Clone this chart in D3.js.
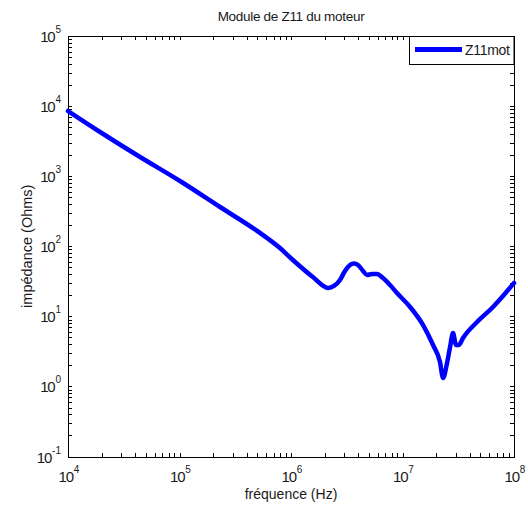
<!DOCTYPE html>
<html>
<head>
<meta charset="utf-8">
<script src="https://cdn.jsdelivr.net/npm/d3@7"></script>
<style>
  html, body { margin: 0; padding: 0; background: #fff; }
  svg { display: block; font-family: "Liberation Sans", Arial, Helvetica, sans-serif; }
  .axis path, .axis line { stroke: #000; stroke-width: 1; shape-rendering: crispEdges; }
</style>
</head>
<body>
<svg id="chart" width="528" height="505"></svg>
<script>
// Measured impedance modulus of Z11 (motor), frequency in Hz, impedance in Ohms
const frequency = [
  1.0e4, 1.94e4, 4.43e4, 1.01e5, 2.31e5, 5.27e5, 7.96e5, 1.04e6, 1.57e6, 2.15e6,
  2.43e6, 2.75e6, 3.05e6, 3.38e6, 3.67e6, 3.99e6, 4.43e6, 4.81e6, 5.33e6, 5.90e6,
  6.68e6, 7.73e6, 8.93e6, 1.17e7, 1.53e7, 1.88e7, 2.17e7, 2.31e7, 2.51e7, 2.67e7,
  2.84e7, 3.02e7, 3.21e7, 3.49e7, 4.66e7, 6.48e7, 7.96e7, 1.0e8
];
const impedance = [
  8510, 4266, 1877, 853, 363, 155, 94.4, 63.7, 36.4, 25.4,
  27.1, 33.0, 44.4, 54.0, 56.8, 54.0, 44.4, 38.9, 40.2, 40.2,
  35.2, 28.0, 21.5, 13.6, 7.52, 3.90, 2.23, 1.32, 2.16, 3.65,
  5.78, 3.90, 3.90, 4.91, 8.30, 13.6, 19.5, 29.9
];
const seriesName = "Z11mot";

// Decade tick exponents for both log axes
const xTickExps = [4, 5, 6, 7, 8];
const yTickExps = [-1, 0, 1, 2, 3, 4, 5];

const titleText = "Module de Z11 du moteur";
const xLabelText = "fréquence (Hz)";
const yLabelText = "impédance (Ohms)";

const plot = { left: 68, right: 514, top: 36, bottom: 456.5 };

const svg = d3.select("#chart");

const x = d3.scaleLog().domain([1e4, 1e8]).range([plot.left, plot.right]);
const y = d3.scaleLog().domain([1e-1, 1e5]).range([plot.bottom, plot.top]);

const xTicks = x.ticks();
const yTicks = y.ticks();
const tickLen = 4;

// Inward-pointing ticks on all four sides (boxed axes)
svg.append("g").attr("class", "axis")
  .attr("transform", `translate(0,${plot.bottom})`)
  .call(d3.axisBottom(x).tickValues(xTicks).tickSize(-tickLen).tickSizeOuter(0).tickFormat(""));
svg.append("g").attr("class", "axis")
  .attr("transform", `translate(0,${plot.top})`)
  .call(d3.axisTop(x).tickValues(xTicks).tickSize(-tickLen).tickSizeOuter(0).tickFormat(""));
svg.append("g").attr("class", "axis")
  .attr("transform", `translate(${plot.left},0)`)
  .call(d3.axisLeft(y).tickValues(yTicks).tickSize(-tickLen).tickSizeOuter(0).tickFormat(""));
svg.append("g").attr("class", "axis")
  .attr("transform", `translate(${plot.right},0)`)
  .call(d3.axisRight(y).tickValues(yTicks).tickSize(-tickLen).tickSizeOuter(0).tickFormat(""));

// Power-of-ten tick labels
const labelColor = "#1a1a1a";
function powerLabel(sel, exp) {
  sel.append("tspan").attr("font-size", 15).attr("letter-spacing", -1.2).text("10");
  sel.append("tspan").attr("font-size", 10).attr("dy", -9).attr("dx", 1).text(exp);
}

xTickExps.forEach(e => {
  const t = svg.append("text")
    .attr("x", x(Math.pow(10, e)) + 1)
    .attr("y", plot.bottom + 25.5)
    .attr("text-anchor", "middle")
    .attr("fill", labelColor);
  powerLabel(t, e);
});

yTickExps.forEach(e => {
  const t = svg.append("text")
    .attr("x", plot.left - 7)
    .attr("y", y(Math.pow(10, e)) + 6)
    .attr("text-anchor", "end")
    .attr("fill", labelColor);
  powerLabel(t, e);
});

// Impedance curve
const line = d3.line()
  .x((d, i) => x(frequency[i]))
  .y((d, i) => y(impedance[i]))
  .curve(d3.curveMonotoneX);

svg.append("path")
  .datum(frequency)
  .attr("d", line)
  .attr("fill", "none")
  .attr("stroke", "#0000ff")
  .attr("stroke-width", 4.5)
  .attr("stroke-linejoin", "round")
  .attr("stroke-linecap", "round");

// Title and axis labels
svg.append("text")
  .attr("x", (plot.left + plot.right) / 2)
  .attr("y", 21)
  .attr("text-anchor", "middle")
  .attr("font-size", 13.5)
  .attr("letter-spacing", -0.3)
  .attr("fill", labelColor)
  .text(titleText);

svg.append("text")
  .attr("x", (plot.left + plot.right) / 2)
  .attr("y", 499)
  .attr("text-anchor", "middle")
  .attr("font-size", 14)
  .attr("fill", labelColor)
  .text(xLabelText);

svg.append("text")
  .attr("transform", `translate(32,${(plot.top + plot.bottom) / 2}) rotate(-90)`)
  .attr("text-anchor", "middle")
  .attr("font-size", 14.5)
  .attr("fill", labelColor)
  .text(yLabelText);

// Legend
const legend = svg.append("g");
legend.append("rect")
  .attr("x", 409.5).attr("y", plot.top + 0.5)
  .attr("width", plot.right - 409.5).attr("height", 28)
  .attr("fill", "#fff").attr("stroke", "#000").attr("stroke-width", 1);
legend.append("line")
  .attr("x1", 415).attr("x2", 462)
  .attr("y1", 49.5).attr("y2", 49.5)
  .attr("stroke", "#0000ff").attr("stroke-width", 5);
legend.append("text")
  .attr("x", 465).attr("y", 55)
  .attr("font-size", 14)
  .attr("letter-spacing", -0.3)
  .attr("fill", labelColor)
  .text(seriesName);
</script>
</body>
</html>
